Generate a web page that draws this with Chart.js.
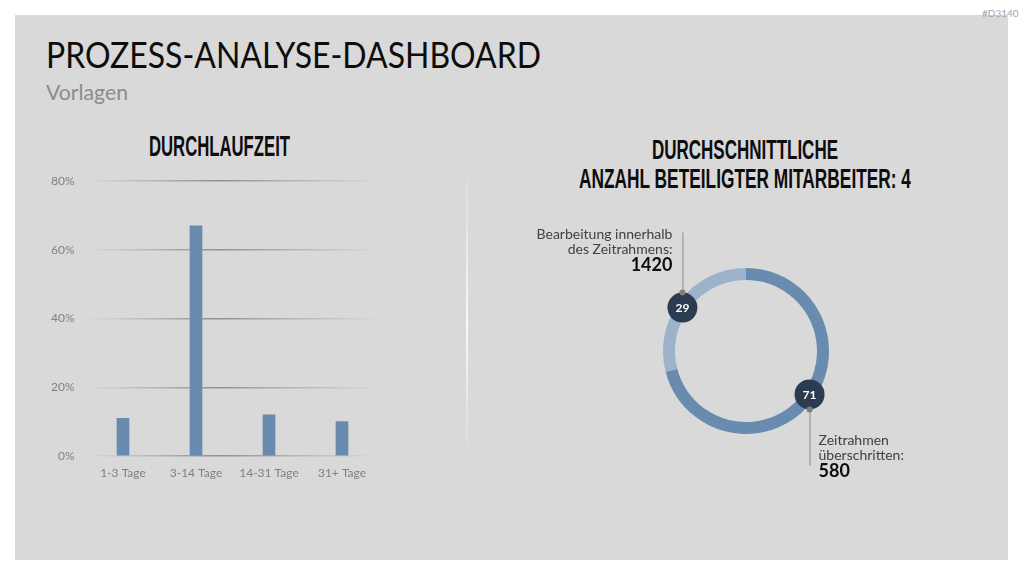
<!DOCTYPE html>
<html>
<head>
<meta charset="utf-8">
<script src="https://cdn.jsdelivr.net/npm/chart.js@4"></script>
<style>
  body { margin: 0; width: 1024px; height: 576px; background: #fff; position: relative; overflow: hidden; font-family: Lato, sans-serif; }
  #panel { position: absolute; left: 15px; top: 15px; width: 993px; height: 545px; background: #d9d9d9; }
  .t { position: absolute; white-space: nowrap; line-height: 1; transform-origin: left top; }
  .head { font-family: "Liberation Sans Narrow", sans-serif; font-weight: bold; color: #0d0d0d; }
  #sep { position: absolute; left: 466px; top: 160px; width: 2px; height: 300px;
         background: linear-gradient(to bottom, rgba(255,255,255,0), rgba(255,255,255,0.85) 55%, rgba(255,255,255,0)); }
  canvas { position: absolute; }
</style>
</head>
<body>
<div id="panel"></div>
<div class="t" style="left:982px; top:8px; font-size:10px; color:#a6a6a6;">#D3140</div>
<div class="t fit" data-w="495" style="left:46px; top:36px; font-size:36px; color:#0d0d0d;">PROZESS-ANALYSE-DASHBOARD</div>
<div class="t fit" data-w="82" style="left:46px; top:81px; font-size:22px; color:#8c8c8c;">Vorlagen</div>
<div class="t head fit" data-w="141" style="left:149px; top:132px; font-size:29px;">DURCHLAUFZEIT</div>
<div class="t head fit" data-w="186" style="left:652px; top:137px; font-size:27px;">DURCHSCHNITTLICHE</div>
<div class="t head fit" data-w="332" style="left:579px; top:166px; font-size:27px;">ANZAHL BETEILIGTER MITARBEITER: 4</div>
<div id="sep"></div>
<canvas id="barChart" width="360" height="333" style="left:40px; top:162px;"></canvas>
<canvas id="donutChart" width="500" height="300" style="left:500px; top:200px;"></canvas>
<script>
// Durchlaufzeit (percent of cases)
const barLabels = ['1-3 Tage', '3-14 Tage', '14-31 Tage', '31+ Tage'];
const barValues = [11, 67, 12, 10];
const yTickValues = [0, 20, 40, 60, 80];

// Doughnut: percentages, counts and label texts
const donutPercent = [71, 29];
const donutCounts = [580, 1420];
const donutText = [['Zeitrahmen', 'überschritten:'], ['Bearbeitung innerhalb', 'des Zeitrahmens:']];
const donutColors = ['#6a8bb0', '#9db3cc'];

const axisGrey = '#808080';

function gridGradient(context) {
    const area = context.chart.chartArea;
    if (!area) return 'rgba(0,0,0,0)';
    const g = context.chart.ctx.createLinearGradient(area.left, 0, area.right, 0);
    g.addColorStop(0, 'rgba(130,130,130,0)');
    g.addColorStop(0.45, 'rgba(120,120,120,0.75)');
    g.addColorStop(1, 'rgba(130,130,130,0)');
    return g;
}

new Chart(document.getElementById('barChart'), {
    type: 'bar',
    data: {
        labels: barLabels,
        datasets: [{
            data: barValues,
            backgroundColor: '#6a8bb0',
            barThickness: 12
        }]
    },
    options: {
        responsive: false,
        animation: false,
        layout: { padding: { top: 12, right: 21.5, left: 0, bottom: 0 } },
        plugins: { legend: { display: false }, tooltip: { enabled: false } },
        scales: {
            x: {
                grid: { display: false },
                border: { display: false },
                ticks: { color: axisGrey, font: { family: 'Lato', size: 12 }, padding: 2 },
                afterFit: function (s) { s.height = 39; }
            },
            y: {
                min: 0,
                max: 80,
                afterBuildTicks: function (s) { s.ticks = yTickValues.map(v => ({ value: v })); },
                grid: { color: gridGradient, lineWidth: 1.5, drawTicks: false },
                border: { display: false },
                ticks: {
                    color: axisGrey,
                    font: { family: 'Lato', size: 12 },
                    padding: 12,
                    callback: function (v) { return v + '%'; }
                },
                afterFit: function (s) { s.width = 46.5; }
            }
        }
    }
});

const markerPlugin = {
    id: 'markers',
    afterDatasetsDraw(chart) {
        const ctx = chart.ctx;
        const arcs = chart.getDatasetMeta(0).data;
        arcs.forEach(function (arc, i) {
            // marker sits a little before the middle of its segment, on the ring
            const a = (arc.startAngle + arc.endAngle) / 2 - 0.06;
            const r = (arc.innerRadius + arc.outerRadius) / 2;
            const p = { x: arc.x + Math.cos(a) * r, y: arc.y + Math.sin(a) * r };
            const up = p.y < arc.y;
            const dir = up ? -1 : 1;
            ctx.save();
            // connector
            ctx.strokeStyle = '#8c8c8c';
            ctx.lineWidth = 1;
            ctx.beginPath();
            ctx.moveTo(p.x + 0.5, p.y + dir * 16);
            ctx.lineTo(p.x + 0.5, p.y + dir * (up ? 75 : 71));
            ctx.stroke();
            // marker circle
            ctx.fillStyle = '#2b3b51';
            ctx.beginPath();
            ctx.arc(p.x, p.y, 15, 0, Math.PI * 2);
            ctx.fill();
            ctx.fillStyle = '#7f7f7f';
            ctx.beginPath();
            ctx.arc(p.x, p.y + dir * 15, 3, 0, Math.PI * 2);
            ctx.fill();
            ctx.fillStyle = '#ffffff';
            ctx.font = 'bold 12px Lato';
            ctx.textAlign = 'center';
            ctx.textBaseline = 'middle';
            ctx.fillText(String(donutPercent[i]), p.x, p.y + 0.5);
            // label text
            const lines = donutText[i];
            ctx.textAlign = up ? 'right' : 'left';
            const tx = up ? p.x - 10 : p.x + 9;
            const y0 = up ? p.y - 73 : p.y + 46;
            ctx.fillStyle = '#404040';
            ctx.font = '14px Lato';
            ctx.fillText(lines[0], tx, y0);
            ctx.fillText(lines[1], tx, y0 + 15);
            ctx.fillStyle = '#0d0d0d';
            ctx.font = 'bold 18px Lato';
            ctx.fillText(String(donutCounts[i]), tx, y0 + 31);
            ctx.restore();
        });
    }
};

new Chart(document.getElementById('donutChart'), {
    type: 'doughnut',
    data: {
        labels: donutText.map(l => l.join(' ')),
        datasets: [{
            data: donutPercent,
            backgroundColor: donutColors,
            borderWidth: 0
        }]
    },
    options: {
        responsive: false,
        animation: false,
        cutout: 71,
        layout: { padding: { left: 163, right: 171, top: 68, bottom: 66 } },
        plugins: { legend: { display: false }, tooltip: { enabled: false } }
    },
    plugins: [markerPlugin]
});

document.querySelectorAll('.fit').forEach(function (el) {
    const w = el.getBoundingClientRect().width;
    el.style.transform = 'scaleX(' + (+el.dataset.w / w) + ')';
});
</script>
</body>
</html>
